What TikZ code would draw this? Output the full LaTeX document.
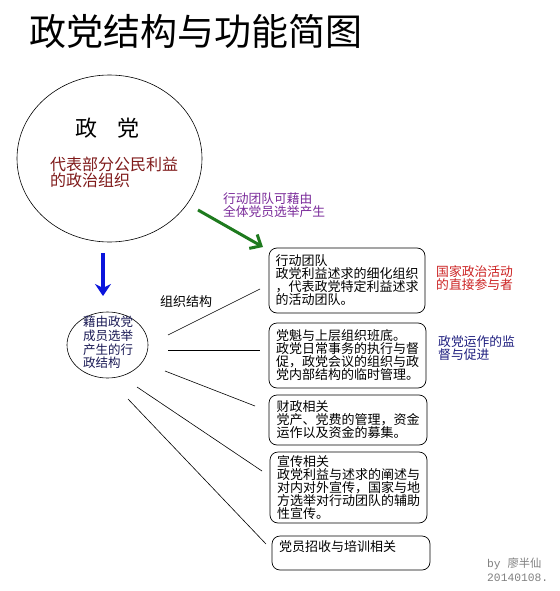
\documentclass[tikz,border=0pt]{standalone}
\usepackage{fontspec}
\setmainfont{Noto Sans CJK SC}
\newfontfamily\sigfont{Liberation Mono}
\newfontfamily\cjk{Noto Sans CJK SC}
\usetikzlibrary{arrows.meta,shapes.geometric}
\definecolor{darkred}{HTML}{7F1A1A}
\definecolor{sidered}{HTML}{CC2222}
\definecolor{navytext}{HTML}{1F1F80}
\definecolor{purpletext}{HTML}{7A2A9A}
\definecolor{ellipsetext}{HTML}{1A1A55}
\definecolor{arrowgreen}{HTML}{1E7A1E}
\definecolor{arrowblue}{HTML}{0A14DC}
\definecolor{siggray}{HTML}{808080}
\tikzset{
  funcbox/.style={draw, rounded corners=8pt, line width=0.7pt, inner sep=0pt, align=left,
    font=\fontsize{13}{13}\selectfont, text width=143pt},
  branch/.style={line width=0.6pt},
  sidelabel/.style={anchor=west, align=left, font=\fontsize{12.8}{13}\selectfont, inner sep=0pt},
}
\begin{document}
\begin{tikzpicture}[x=1pt,y=-1pt]
\useasboundingbox[fill=white] (0,0) rectangle (559,591);

% title
\node[font=\fontsize{37}{40}\selectfont, inner sep=0pt] (title) at (196,31) {政党结构与功能简图};

% big circle
\node[draw, ellipse, line width=0.6pt, minimum width=185pt, minimum height=167pt, inner sep=0pt] (party) at (109.5,158.5) {};
\node[font=\fontsize{22}{22}\selectfont, inner sep=0pt] (partyname) at (107.5,128) {政\hspace{20pt}党};
\node[anchor=west, align=left, text=darkred, font=\fontsize{16}{16}\selectfont, inner sep=0pt] (partydef) at (50,172) {代表部分公民利益\\的政治组织};

% blue arrow
\coordinate (bluestart) at (103,253);
\node[draw, ellipse, line width=0.6pt, minimum width=81pt, minimum height=66pt, inner sep=0pt] (exec) at (107.5,345) {};
\node[align=left, text=ellipsetext, font=\fontsize{12.5}{13.7}\selectfont, inner sep=0pt] (exectext) at (108,342.5) {藉由政党\\成员选举\\产生的行\\政结构};
\coordinate (blueend) at (103,296);
\draw[arrowblue, line width=4pt, -{Stealth[length=12pt,width=16pt,inset=4pt]}] (bluestart) -- (blueend);

% purple note and green arrow
\node[sidelabel, text=purpletext, font=\fontsize{12.75}{13}\selectfont] (teamnote) at (223,205.5) {行动团队可藉由\\全体党员选举产生};
\coordinate (greenstart) at (198,210);
\coordinate (greenend) at (263,247);
\draw[arrowgreen, line width=3pt, -{Straight Barb[length=9pt,width=16pt]}] (greenstart) -- (greenend);

% boxes
\node[funcbox, minimum width=156pt, minimum height=65pt] (box1) at (347,280.5) {行动团队\\政党利益述求的细化组织\\，代表政党特定利益述求\\的活动团队。};
\node[funcbox, minimum width=157pt, minimum height=65pt] (box2) at (347.5,355.5) {党魁与上层组织班底。\\政党日常事务的执行与督\\促，政党会议的组织与政\\党内部结构的临时管理。};
\node[funcbox, minimum width=158pt, minimum height=50pt] (box3) at (348,420) {财政相关\\党产、党费的管理，资金\\运作以及资金的募集。};
\node[funcbox, minimum width=157pt, minimum height=71pt] (box4) at (348.5,487.5) {宣传相关\\政党利益与述求的阐述与\\对内对外宣传，国家与地\\方选举对行动团队的辅助\\性宣传。};
\node[draw, rounded corners=8pt, line width=0.7pt, minimum width=158pt, minimum height=34pt, inner sep=0pt] (box5) at (351,553) {};
\node[anchor=west, font=\fontsize{13}{13}\selectfont, inner sep=0pt] (box5text) at (279,546.5) {党员招收与培训相关};

% side labels
\node[sidelabel, text=sidered] (role1) at (436,278.5) {国家政治活动\\的直接参与者};
\node[sidelabel, text=navytext] (role2) at (438,348.5) {政党运作的监\\督与促进};

% branch label
\node[font=\fontsize{13}{13}\selectfont, inner sep=0pt] (orglabel) at (186,302) {组织结构};

% branch lines
\coordinate (s1) at (168,335);  \coordinate (e1) at (260,289);
\coordinate (s2) at (168,350);  \coordinate (e2) at (260,350);
\coordinate (s3) at (165,371);  \coordinate (e3) at (255,406);
\coordinate (s4) at (137,387);  \coordinate (e4) at (262,471);
\coordinate (s5) at (128,399);  \coordinate (e5) at (266,544);
\draw[branch] (s1) -- (e1);
\draw[branch] (s2) -- (e2);
\draw[branch] (s3) -- (e3);
\draw[branch] (s4) -- (e4);
\draw[branch] (s5) -- (e5);

% signature
\node[anchor=west, align=left, text=siggray, font=\sigfont\fontsize{11.3}{14}\selectfont, inner sep=0pt] (sig) at (487,570) {by {\cjk 廖半仙}\\20140108.};
\end{tikzpicture}
\end{document}
